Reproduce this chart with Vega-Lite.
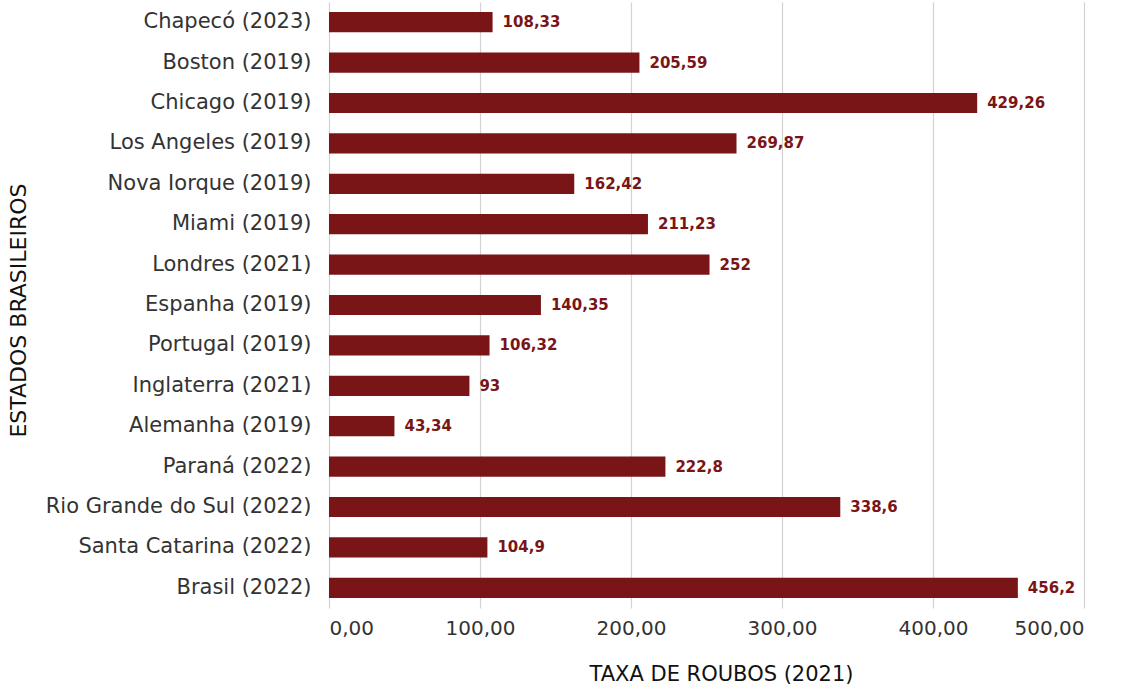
{
  "$schema": "https://vega.github.io/schema/vega-lite/v6.json",
  "autosize": "none",
  "width": 755,
  "height": 606,
  "padding": {"left": 329, "top": 2, "right": 47, "bottom": 81},
  "background": "white",
  "config": {
    "locale": {"number": {"decimal": ",", "thousands": ".", "grouping": [3], "currency": ["R$", ""]}},
    "view": {"stroke": null},
    "font": "DejaVu Sans"
  },
  "data": {
    "values": [
      {"local": "Chapecó (2023)", "taxa": 108.33},
      {"local": "Boston (2019)", "taxa": 205.59},
      {"local": "Chicago (2019)", "taxa": 429.26},
      {"local": "Los Angeles (2019)", "taxa": 269.87},
      {"local": "Nova Iorque (2019)", "taxa": 162.42},
      {"local": "Miami (2019)", "taxa": 211.23},
      {"local": "Londres (2021)", "taxa": 252},
      {"local": "Espanha (2019)", "taxa": 140.35},
      {"local": "Portugal (2019)", "taxa": 106.32},
      {"local": "Inglaterra (2021)", "taxa": 93},
      {"local": "Alemanha (2019)", "taxa": 43.34},
      {"local": "Paraná (2022)", "taxa": 222.8},
      {"local": "Rio Grande do Sul (2022)", "taxa": 338.6},
      {"local": "Santa Catarina (2022)", "taxa": 104.9},
      {"local": "Brasil (2022)", "taxa": 456.2}
    ]
  },
  "encoding": {
    "y": {
      "field": "local", "type": "nominal", "sort": null,
      "scale": {"paddingInner": 0.5, "paddingOuter": 0.25},
      "axis": {
        "title": "ESTADOS BRASILEIROS", "titleFont": "DejaVu Sans", "titleFontSize": 22, "titleFontWeight": "normal",
        "titleColor": "#111", "titleX": -311, "titleY": 308, "titleBaseline": "middle", "titleAlign": "center", "titleAngle": -90,
        "labelFont": "DejaVu Sans", "labelFontSize": 21, "labelFontWeight": "normal", "labelColor": "#333",
        "labelPadding": 18, "ticks": false, "domain": false, "grid": false, "labelLimit": 400
      }
    },
    "x": {
      "field": "taxa", "type": "quantitative",
      "scale": {"domain": [0, 500], "nice": false},
      "axis": {
        "title": "TAXA DE ROUBOS (2021)", "titleFont": "DejaVu Sans", "titleFontSize": 21, "titleFontWeight": "normal",
        "titleColor": "#111", "titleX": 392, "titleY": 66, "titleAlign": "center", "titleBaseline": "middle",
        "labelFont": "DejaVu Sans", "labelFontSize": 20, "labelFontWeight": "normal", "labelColor": "#333",
        "format": ",.2f", "values": [0, 100, 200, 300, 400, 500], "labelPadding": 10,
        "ticks": false, "domain": false, "grid": true, "gridColor": "#d2d2d2", "gridWidth": 1.2
      }
    }
  },
  "layer": [
    {"mark": {"type": "bar", "color": "#7a1517"}},
    {
      "mark": {"type": "text", "align": "left", "dx": 10, "font": "DejaVu Sans", "fontWeight": "bold", "fontSize": 15, "color": "#7a1517"},
      "encoding": {"text": {"field": "taxa", "type": "quantitative", "format": ".5~g"}}
    }
  ]
}
